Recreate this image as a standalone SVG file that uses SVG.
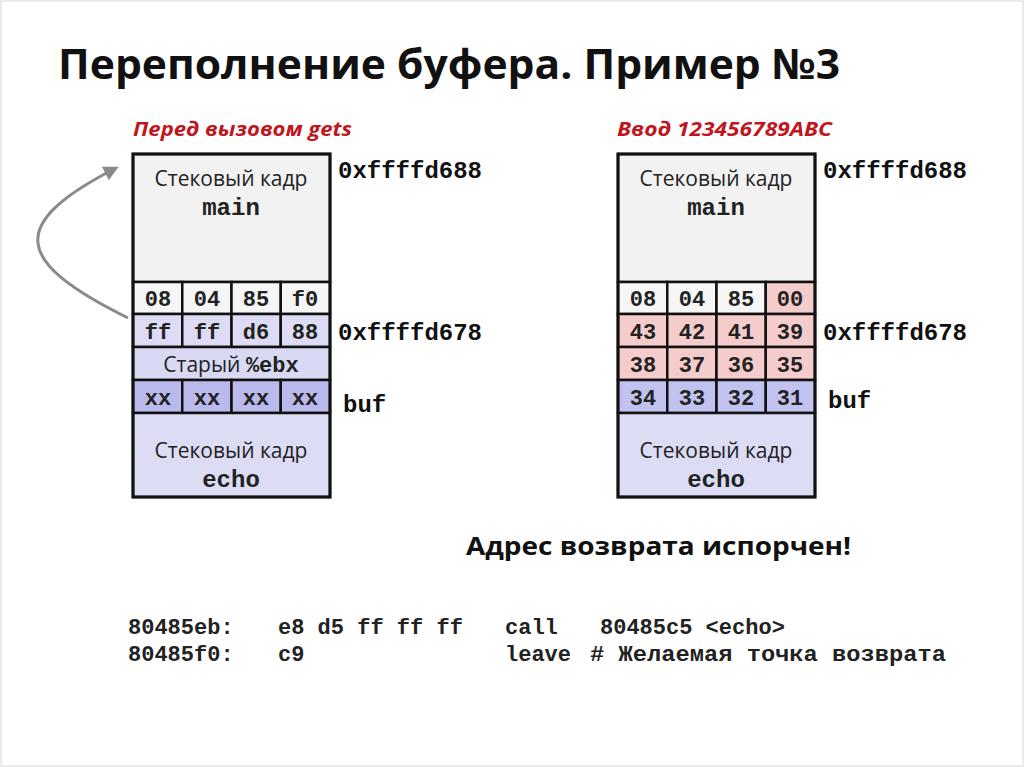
<svg xmlns="http://www.w3.org/2000/svg" width="1024" height="767" viewBox="0 0 1024 767">
<defs>
<style>
.cell{stroke:#111;stroke-width:2.5}
.big{stroke:#111;stroke-width:3;fill:none}
.sans{font-family:"Open Sans","Noto Sans",sans-serif;font-size:21px;fill:#222}
.mono{font-family:"Liberation Mono","DejaVu Sans Mono",monospace;font-weight:bold;font-size:22px;fill:#222}
.lbl{font-family:"Liberation Mono","DejaVu Sans Mono",monospace;font-weight:bold;font-size:24px;fill:#222}
.addr{font-family:"Liberation Mono","DejaVu Sans Mono",monospace;font-weight:bold;font-size:24px;fill:#111}
.hdr{font-family:"Open Sans","Noto Sans",sans-serif;font-style:italic;font-weight:bold;font-size:20px;fill:#c0161e}
.code{font-family:"Liberation Mono","DejaVu Sans Mono",monospace;font-weight:bold;font-size:22px;fill:#222}
</style>
<marker id="ah" viewBox="0 0 10 10" refX="8" refY="5" markerWidth="5" markerHeight="5" orient="auto-start-reverse">
<path d="M0,0 L10,5 L0,10 z" fill="#8a8a8a"/>
</marker>
</defs>
<rect x="1" y="1" width="1022" height="765" fill="#fff" stroke="#e4e4e4" stroke-width="1.5"/>
<text x="58" y="79" font-family="'Open Sans','Noto Sans',sans-serif" font-weight="bold" font-size="42" fill="#111" textLength="782" lengthAdjust="spacingAndGlyphs">Переполнение буфера. Пример №3</text>

<g id="connectors">
<path d="M128,318 C15,262 5,225 116,168" fill="none" stroke="#8a8a8a" stroke-width="3" marker-end="url(#ah)"/>
</g>

<g id="left-stack">
<text class="hdr" x="133" y="136" textLength="219" lengthAdjust="spacingAndGlyphs">Перед вызовом gets</text>
<rect x="133" y="154" width="197" height="128" fill="#f2f2f2" class="cell"/>
<text class="sans" x="231" y="186" text-anchor="middle">Стековый кадр</text>
<text class="lbl" x="231" y="215" text-anchor="middle">main</text>
<g>
<rect x="133" y="282" width="49.25" height="32" fill="#f6f6f6" class="cell"/>
<rect x="182.25" y="282" width="49.25" height="32" fill="#f6f6f6" class="cell"/>
<rect x="231.5" y="282" width="49.25" height="32" fill="#f6f6f6" class="cell"/>
<rect x="280.75" y="282" width="49.25" height="32" fill="#f6f6f6" class="cell"/>
<text class="mono" x="158" y="306" text-anchor="middle">08</text>
<text class="mono" x="207" y="306" text-anchor="middle">04</text>
<text class="mono" x="256" y="306" text-anchor="middle">85</text>
<text class="mono" x="305" y="306" text-anchor="middle">f0</text>
</g>
<g>
<rect x="133" y="314" width="49.25" height="33" fill="#dcdcf5" class="cell"/>
<rect x="182.25" y="314" width="49.25" height="33" fill="#dcdcf5" class="cell"/>
<rect x="231.5" y="314" width="49.25" height="33" fill="#dcdcf5" class="cell"/>
<rect x="280.75" y="314" width="49.25" height="33" fill="#dcdcf5" class="cell"/>
<text class="mono" x="158" y="339" text-anchor="middle">ff</text>
<text class="mono" x="207" y="339" text-anchor="middle">ff</text>
<text class="mono" x="256" y="339" text-anchor="middle">d6</text>
<text class="mono" x="305" y="339" text-anchor="middle">88</text>
</g>
<rect x="133" y="347" width="197" height="33" fill="#d9d9f3" class="cell"/>
<text x="231" y="372" text-anchor="middle"><tspan class="sans">Старый </tspan><tspan class="mono">%ebx</tspan></text>
<g>
<rect x="133" y="380" width="49.25" height="33" fill="#b9b9ec" class="cell"/>
<rect x="182.25" y="380" width="49.25" height="33" fill="#b9b9ec" class="cell"/>
<rect x="231.5" y="380" width="49.25" height="33" fill="#b9b9ec" class="cell"/>
<rect x="280.75" y="380" width="49.25" height="33" fill="#b9b9ec" class="cell"/>
<text class="mono" x="158" y="405" text-anchor="middle">xx</text>
<text class="mono" x="207" y="405" text-anchor="middle">xx</text>
<text class="mono" x="256" y="405" text-anchor="middle">xx</text>
<text class="mono" x="305" y="405" text-anchor="middle">xx</text>
</g>
<rect x="133" y="413" width="197" height="84" fill="#dcdcf5" class="cell"/>
<text class="sans" x="231" y="458" text-anchor="middle">Стековый кадр</text>
<text class="lbl" x="231" y="487" text-anchor="middle">echo</text>
<rect x="133" y="154" width="197" height="343" class="big"/>
<text class="addr" x="338" y="178">0xffffd688</text>
<text class="addr" x="338" y="340">0xffffd678</text>
<text class="addr" x="343" y="412">buf</text>
</g>

<g id="right-stack">
<text class="hdr" x="617" y="136" textLength="215" lengthAdjust="spacingAndGlyphs">Ввод 123456789ABC</text>
<rect x="618" y="154" width="197" height="128" fill="#f2f2f2" class="cell"/>
<text class="sans" x="716" y="186" text-anchor="middle">Стековый кадр</text>
<text class="lbl" x="716" y="215" text-anchor="middle">main</text>
<g>
<rect x="618" y="282" width="49.25" height="32" fill="#f6f6f6" class="cell"/>
<rect x="667.25" y="282" width="49.25" height="32" fill="#f6f6f6" class="cell"/>
<rect x="716.5" y="282" width="49.25" height="32" fill="#f6f6f6" class="cell"/>
<rect x="765.75" y="282" width="49.25" height="32" fill="#f5cccc" class="cell"/>
<text class="mono" x="643" y="306" text-anchor="middle">08</text>
<text class="mono" x="692" y="306" text-anchor="middle">04</text>
<text class="mono" x="741" y="306" text-anchor="middle">85</text>
<text class="mono" x="790" y="306" text-anchor="middle">00</text>
</g>
<g>
<rect x="618" y="314" width="49.25" height="33" fill="#f5cccc" class="cell"/>
<rect x="667.25" y="314" width="49.25" height="33" fill="#f5cccc" class="cell"/>
<rect x="716.5" y="314" width="49.25" height="33" fill="#f5cccc" class="cell"/>
<rect x="765.75" y="314" width="49.25" height="33" fill="#f5cccc" class="cell"/>
<text class="mono" x="643" y="339" text-anchor="middle">43</text>
<text class="mono" x="692" y="339" text-anchor="middle">42</text>
<text class="mono" x="741" y="339" text-anchor="middle">41</text>
<text class="mono" x="790" y="339" text-anchor="middle">39</text>
</g>
<g>
<rect x="618" y="347" width="49.25" height="33" fill="#f5cccc" class="cell"/>
<rect x="667.25" y="347" width="49.25" height="33" fill="#f5cccc" class="cell"/>
<rect x="716.5" y="347" width="49.25" height="33" fill="#f5cccc" class="cell"/>
<rect x="765.75" y="347" width="49.25" height="33" fill="#f5cccc" class="cell"/>
<text class="mono" x="643" y="372" text-anchor="middle">38</text>
<text class="mono" x="692" y="372" text-anchor="middle">37</text>
<text class="mono" x="741" y="372" text-anchor="middle">36</text>
<text class="mono" x="790" y="372" text-anchor="middle">35</text>
</g>
<g>
<rect x="618" y="380" width="49.25" height="33" fill="#c2c2f0" class="cell"/>
<rect x="667.25" y="380" width="49.25" height="33" fill="#c2c2f0" class="cell"/>
<rect x="716.5" y="380" width="49.25" height="33" fill="#c2c2f0" class="cell"/>
<rect x="765.75" y="380" width="49.25" height="33" fill="#c2c2f0" class="cell"/>
<text class="mono" x="643" y="405" text-anchor="middle">34</text>
<text class="mono" x="692" y="405" text-anchor="middle">33</text>
<text class="mono" x="741" y="405" text-anchor="middle">32</text>
<text class="mono" x="790" y="405" text-anchor="middle">31</text>
</g>
<rect x="618" y="413" width="197" height="84" fill="#dcdcf5" class="cell"/>
<text class="sans" x="716" y="458" text-anchor="middle">Стековый кадр</text>
<text class="lbl" x="716" y="487" text-anchor="middle">echo</text>
<rect x="618" y="154" width="197" height="343" class="big"/>
<text class="addr" x="823" y="178">0xffffd688</text>
<text class="addr" x="823" y="340">0xffffd678</text>
<text class="addr" x="828" y="408">buf</text>
</g>

<g id="note">
<text x="466" y="555" font-family="'Open Sans','Noto Sans',sans-serif" font-weight="bold" font-size="25" fill="#111" textLength="385" lengthAdjust="spacingAndGlyphs">Адрес возврата испорчен!</text>
</g>

<g id="code">
<text class="code" x="128" y="634">80485eb:</text>
<text class="code" x="278" y="634">e8 d5 ff ff ff</text>
<text class="code" x="505" y="634">call</text>
<text class="code" x="600" y="634">80485c5 &lt;echo&gt;</text>
<text class="code" x="128" y="661">80485f0:</text>
<text class="code" x="278" y="661">c9</text>
<text class="code" x="505" y="661">leave</text>
<text class="code" x="590" y="661" textLength="356" lengthAdjust="spacingAndGlyphs"># Желаемая точка возврата</text>
</g>
</svg>
